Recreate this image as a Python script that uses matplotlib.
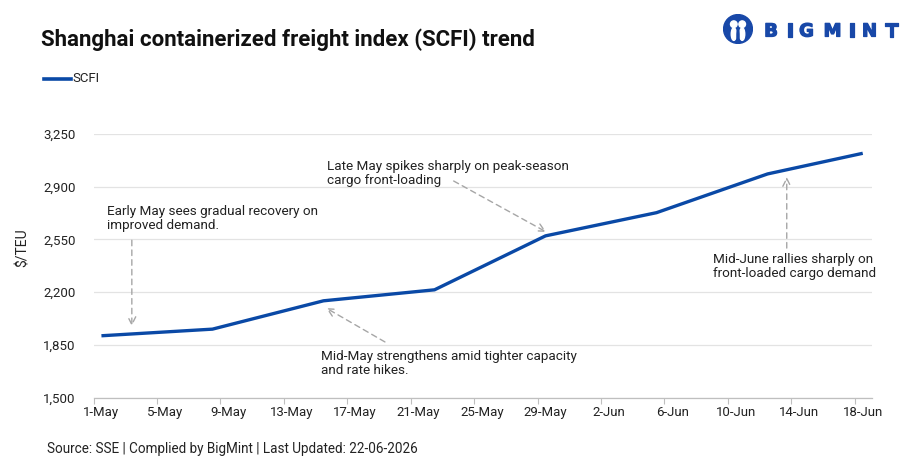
import matplotlib
matplotlib.use("Agg")
import matplotlib.pyplot as plt
import matplotlib.patheffects as pe
from matplotlib.patches import Circle, Ellipse
import datetime as dt

# ---- data ----
dates = ["2026-05-01", "2026-05-08", "2026-05-15", "2026-05-22",
         "2026-05-29", "2026-06-05", "2026-06-12", "2026-06-18"]
scfi = [1911, 1955, 2143, 2216, 2574, 2728, 2985, 3122]
series_name = "SCFI"
yticks = [1500, 1850, 2200, 2550, 2900, 3250]
title = "Shanghai containerized freight index (SCFI) trend"
ylabel = "$/TEU"
source = "Source: SSE | Complied by BigMint | Last Updated: 22-06-2026"

ann_text = [
    "Early May sees gradual recovery on\nimproved demand.",
    "Late May spikes sharply on peak-season\ncargo front-loading",
    "Mid-May strengthens amid tighter capacity\nand rate hikes.",
    "Mid-June rallies sharply on\nfront-loaded cargo demand",
]
# (tip date, tip value), (tail date, tail value)
ann_tip = [("2026-05-02 22:00", 1975), ("2026-05-29 01:00", 2600),
           ("2026-05-15 04:00", 2095), ("2026-06-13 05:00", 2965)]
ann_tail = [("2026-05-02 22:00", 2545), ("2026-05-23 05:00", 2938),
            ("2026-05-18 21:00", 1870), ("2026-06-13 05:00", 2493)]

W, H = 905, 475
fig = plt.figure(figsize=(W / 100, H / 100), dpi=100)
FONT = ["Roboto", "DejaVu Sans"]
plt.rcParams["font.family"] = FONT

def fx(x):
    return x / W

def fy(y):
    return 1 - y / H

ax = fig.add_axes([fx(93.5), fy(397.7), fx(872) - fx(93.5), fy(134) - fy(397.7)])

x = [dt.datetime.fromisoformat(d) for d in dates]
blue = "#0A49A6"
ax.plot(x, scfi, color=blue, lw=2.4, solid_capstyle="butt", solid_joinstyle="round",
        label=series_name, zorder=3)

start = dt.datetime(2026, 5, 1)
ax.set_xlim(start - dt.timedelta(hours=12), start + dt.timedelta(days=48, hours=14))
ax.set_ylim(1500, 3250)

# x ticks: labels at every 4 days, tick marks half a day earlier
lab_days = [start + dt.timedelta(days=4 * i) for i in range(13)]
ax.set_xticks(lab_days)
ax.set_xticklabels([f"{d.day}-{d.strftime('%b')}" for d in lab_days])
ax.set_xticks([d - dt.timedelta(hours=12) for d in lab_days], minor=True)
ax.tick_params(axis="x", which="major", length=0, pad=6, labelsize=9.5, labelcolor="#222222")
ax.tick_params(axis="x", which="minor", length=4, color="#bfbfbf", width=0.8)

ax.set_yticks(yticks)
ax.set_yticklabels([f"{v:,}" for v in yticks])
ax.tick_params(axis="y", length=0, pad=13, labelsize=9.5, labelcolor="#222222")

ax.grid(axis="y", color="#e3e3e3", lw=0.9)
ax.set_axisbelow(True)
for s in ["top", "right", "left"]:
    ax.spines[s].set_visible(False)
ax.spines["bottom"].set_color("#bfbfbf")
ax.spines["bottom"].set_linewidth(0.9)

# annotations
ann_pos = [(107, 212), (327, 167), (321, 357), (713, 260)]
for txt, (px_, py_) in zip(ann_text, ann_pos):
    fig.text(fx(px_), fy(py_ - 7), txt, ha="left", va="top", fontsize=9.7,
             color="#222222", linespacing=1.08)
for tip, tail in zip(ann_tip, ann_tail):
    ax.annotate("", xy=(dt.datetime.fromisoformat(tip[0]), tip[1]),
                xytext=(dt.datetime.fromisoformat(tail[0]), tail[1]),
                arrowprops=dict(arrowstyle="->", color="#a6a6a6", lw=1.0,
                                linestyle=(0, (4, 3)), mutation_scale=14,
                                shrinkA=0, shrinkB=0))

# y label
fig.text(fx(23), fy(248), ylabel, rotation=90, ha="center", va="center",
         fontsize=10, color="#222222")

# title
fig.text(fx(41), fy(46), title, ha="left", va="baseline", fontsize=16.0,
         fontweight="bold", color="#111111")

# legend
fig.add_artist(plt.Line2D([fx(44), fx(71)], [fy(79), fy(79)], color=blue, lw=2.6))
fig.text(fx(72), fy(79), series_name, ha="left", va="center", fontsize=9.5, color="#222222")

# footer
fig.text(fx(47), fy(449), source, ha="left", va="center", fontsize=9.75, color="#222222")

# logo
logo_blue = "#1848A8"
lax = fig.add_axes([fx(723), fy(44), fx(30), fy(0) - fy(30)])
lax.set_xlim(0, 1); lax.set_ylim(0, 1); lax.set_aspect("equal"); lax.axis("off")
lax.add_patch(Circle((0.5, 0.5), 0.48, color=logo_blue))
lax.add_patch(Circle((0.36, 0.66), 0.11, color="white"))
lax.add_patch(Circle((0.64, 0.66), 0.11, color="white"))
lax.add_patch(Ellipse((0.36, 0.33), 0.17, 0.42, color="white"))
lax.add_patch(Ellipse((0.64, 0.33), 0.17, 0.42, color="white"))
lax.add_patch(Ellipse((0.5, 0.3), 0.07, 0.35, color=logo_blue))
letters = "BIGMINT"
xs = [771, 790, 806.5, 832.5, 852, 869.5, 891.5]
for ch, xx in zip(letters, xs):
    fig.text(fx(xx), fy(31.5), ch, ha="center", va="center", fontsize=13,
             fontweight="bold", color=logo_blue, family=["DejaVu Sans"],
             path_effects=[pe.withStroke(linewidth=0.9, foreground=logo_blue)])

fig.savefig("out.png", dpi=100)
